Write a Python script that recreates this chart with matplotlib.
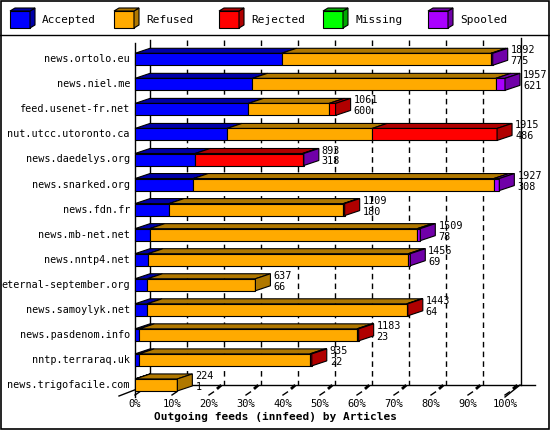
import matplotlib
matplotlib.use("Agg")
import matplotlib.pyplot as plt
from matplotlib.patches import Polygon, Rectangle

hosts = ["news.ortolo.eu", "news.niel.me", "feed.usenet-fr.net", "nut.utcc.utoronto.ca",
         "news.daedelys.org", "news.snarked.org", "news.fdn.fr", "news.mb-net.net",
         "news.nntp4.net", "eternal-september.org", "news.samoylyk.net", "news.pasdenom.info",
         "nntp.terraraq.uk", "news.trigofacile.com"]
totals = [1892, 1957, 1061, 1915, 893, 1927, 1109, 1509, 1456, 637, 1443, 1183, 935, 224]
accepted = [775, 621, 600, 486, 318, 308, 180, 78, 69, 66, 64, 23, 22, 1]
refused = [1108, 1287, 427, 768, 0, 1590, 922, 1415, 1377, 571, 1373, 1151, 903, 223]
rejected = [0, 0, 34, 661, 568, 0, 7, 0, 0, 0, 6, 9, 10, 0]
missing = [0] * 14
spooled = [9, 49, 0, 0, 7, 29, 0, 16, 10, 0, 0, 0, 0, 0]
series_names = ["Accepted", "Refused", "Rejected", "Missing", "Spooled"]
front_cols = ["#0000ff", "#ffaa00", "#ff0000", "#00ff00", "#aa00ff"]
dark_cols = ["#0000a8", "#b07800", "#b00000", "#00a800", "#7000a8"]
xticks = list(range(0, 101, 10))

W, H = 550, 430
fig = plt.figure(figsize=(W / 100, H / 100), dpi=100)
ax = fig.add_axes([0, 0, 1, 1])
ax.axis("off")
X0, XS = 135, 3.7
ax.set_xlim(-X0 / XS, (W - X0) / XS)
ax.set_ylim(H, 0)
DX, DY = 15 / XS, 5
mono = "DejaVu Sans Mono"
vmax = max(totals)
FS = 7.3

ax.add_patch(Rectangle((-X0 / XS + 0.15, 1), (W - 2) / XS, H - 2, fill=False, lw=1.2, ec="black"))
ax.plot([-X0 / XS, (W - X0) / XS], [35, 35], color="black", lw=1)

lx = [10, 114, 219, 323, 428]
for i, name in enumerate(series_names):
    x = (lx[i] - X0) / XS
    w = 20 / XS
    d = 5 / XS
    ax.add_patch(Rectangle((x, 11), w, 17, fc=front_cols[i], ec="black", lw=0.8))
    ax.add_patch(Polygon([(x + w, 11), (x + w + d, 8), (x + w + d, 25), (x + w, 28)],
                         fc=dark_cols[i], ec="black", lw=0.8))
    ax.add_patch(Polygon([(x, 11), (x + d, 8), (x + w + d, 8), (x + w, 11)],
                         fc=dark_cols[i], ec="black", lw=0.8))
    ax.text(x + 32 / XS, 20, name, family=mono, fontsize=8, va="center", ha="left")

yb_back = 385
L = dict(color="black", lw=1, zorder=0.5)
ax.plot([0, 0], [43, 397], **L)
ax.plot([DX, DX], [40, yb_back], **L)
ax.plot([DX, (535 - X0) / XS], [yb_back, yb_back], **L)
ax.plot([100 + DX + 0.3, 100 + DX + 0.3], [38, yb_back], **L)
ax.plot([-16 / XS, DX], [396, yb_back - 1], **L)
ax.plot([100, 100 + DX], [397, yb_back], **L)
for t in xticks[1:-1]:
    ax.plot([t + DX, t + DX], [40, yb_back], ls=(0, (4, 3)), **L)
for t in xticks:
    ax.plot([t, t + 1.2], [395, 392], **L)
    ax.plot([t + DX * 0.6, t + DX * 0.75], [388, 386], color="black", lw=2, zorder=0.5)
    ax.text(t, 404, f"{t}%", family=mono, fontsize=7.5, ha="center", va="center")
ax.text((275 - X0) / XS, 417, "Outgoing feeds (innfeed) by Articles", family=mono,
        fontsize=8, fontweight="bold", ha="center", va="center")

for i, h in enumerate(hosts):
    ytop = 53.3 + 25.05 * i
    hgt = 12
    segs = [accepted[i], refused[i], rejected[i], missing[i], spooled[i]]
    left = 0
    last = 0
    for k, v in enumerate(segs):
        if v <= 0:
            continue
        w = v / vmax * 100
        ax.add_patch(Polygon([(left, ytop), (left + DX, ytop - DY), (left + w + DX, ytop - DY),
                              (left + w, ytop)], fc=dark_cols[k], ec="black", lw=0.8, zorder=2))
        ax.add_patch(Rectangle((left, ytop), w, hgt, fc=front_cols[k], ec="black", lw=0.8, zorder=2))
        left += w
        last = k
    ax.add_patch(Polygon([(left, ytop), (left + DX, ytop - DY), (left + DX, ytop + hgt - DY),
                          (left, ytop + hgt)], fc=dark_cols[last], ec="black", lw=0.8, zorder=2))
    ax.text(-5 / XS, ytop + hgt / 2, h, family=mono, fontsize=FS, ha="right", va="center")
    tx = left + DX + 3 / XS
    ax.text(tx, ytop - 3, str(totals[i]), family=mono, fontsize=FS, ha="left", va="center", zorder=3)
    ax.text(tx, ytop + 8, str(accepted[i]), family=mono, fontsize=FS, ha="left", va="center", zorder=3)

fig.savefig("out.png", dpi=100)
